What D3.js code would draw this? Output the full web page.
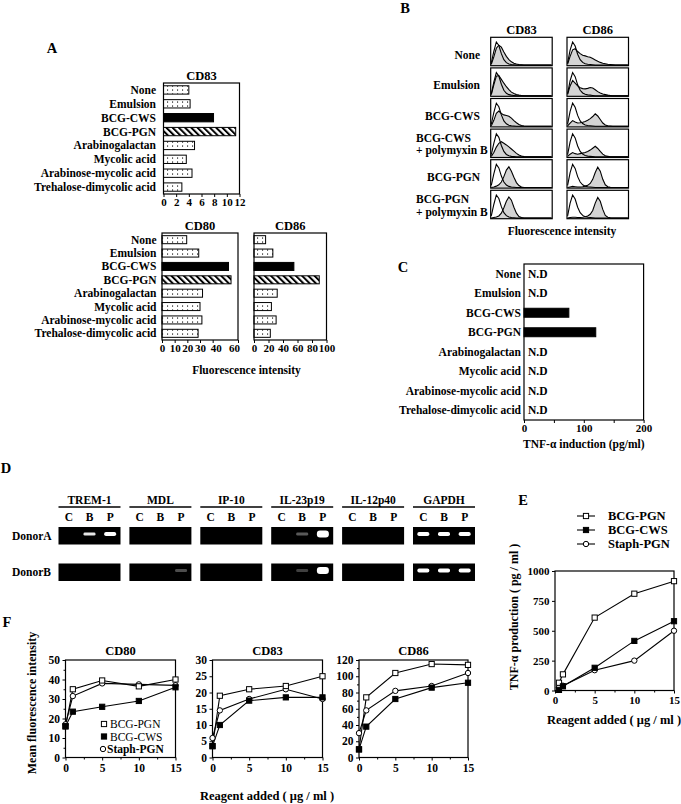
<!DOCTYPE html>
<html><head><meta charset="utf-8">
<script src="https://cdn.jsdelivr.net/npm/d3@7"></script>
<style>
html,body{margin:0;padding:0;background:#fff;}
svg{display:block;}
</style></head><body>
<svg id="fig" width="681" height="804"></svg>
<script>
// ================= DATA =================
// Panel A / C categories
const compounds = ["None","Emulsion","BCG-CWS","BCG-PGN","Arabinogalactan","Mycolic acid","Arabinose-mycolic acid","Trehalose-dimycolic acid"];
const barKind = ["dots","dots","solid","hatch","dots","dots","dots","dots"];
const cd83MFI = [4.0, 4.2, 7.9, 11.4, 4.9, 3.6, 4.5, 2.9];
const cd80MFI = [19.5, 29, 52.5, 54.5, 32, 30, 31.5, 28.5];
const cd86MFI = [16, 26, 55, 90, 32, 24, 30.5, 22.5];
const cd83Ticks = [0,2,4,6,8,10,12];
const cd80Ticks = [0,10,20,30,40,60];
const cd86Ticks = [0,20,40,60,80,100];
// Panel C
const tnfInduction = [null, null, 75, 120, null, null, null, null];
const tnfTicks = [0,50,100,150,200];
const tnfTickLabels = [0,100,200];
// Panel B (histograms, relative counts over 25 log-intensity bins)
const histRows = ["None","Emulsion","BCG-CWS","BCG-CWS|+ polymyxin B","BCG-PGN","BCG-PGN|+ polymyxin B"];
const histMarkers = ["CD83","CD86"];
const isoCD83 = [0.08,0.5,0.85,0.72,0.42,0.2,0.09,0.04,0.02,0.01,0,0,0,0,0,0,0,0,0,0,0,0,0,0,0];
const isoCD86 = [0.08,0.55,0.85,0.7,0.4,0.2,0.1,0.05,0.03,0.02,0.01,0,0,0,0,0,0,0,0,0,0,0,0,0,0];
const histCD83 = [
  [0.03,0.3,0.62,0.73,0.66,0.48,0.32,0.2,0.12,0.07,0.04,0.02,0.01,0,0,0,0,0,0,0,0,0,0,0,0],
  [0.04,0.4,0.72,0.74,0.6,0.46,0.33,0.22,0.13,0.08,0.04,0.02,0.01,0,0,0,0,0,0,0,0,0,0,0,0],
  [0.02,0.22,0.48,0.56,0.47,0.42,0.4,0.37,0.3,0.21,0.13,0.07,0.03,0.01,0,0,0,0,0,0,0,0,0,0,0],
  [0.02,0.16,0.36,0.5,0.56,0.5,0.44,0.37,0.29,0.21,0.13,0.07,0.03,0.01,0,0,0,0,0,0,0,0,0,0,0],
  [0,0.02,0.05,0.1,0.2,0.4,0.64,0.76,0.6,0.38,0.18,0.07,0.02,0,0,0,0,0,0,0,0,0,0,0,0],
  [0,0.02,0.04,0.08,0.18,0.38,0.62,0.78,0.66,0.4,0.18,0.06,0.02,0,0,0,0,0,0,0,0,0,0,0,0]
];
const histCD86 = [
  [0.04,0.32,0.56,0.6,0.5,0.42,0.36,0.34,0.31,0.29,0.24,0.19,0.14,0.1,0.07,0.05,0.03,0.02,0.01,0,0,0,0,0,0],
  [0.05,0.36,0.56,0.46,0.36,0.29,0.26,0.25,0.27,0.3,0.28,0.22,0.15,0.1,0.06,0.04,0.02,0.01,0,0,0,0,0,0,0],
  [0.02,0.12,0.21,0.16,0.12,0.13,0.15,0.18,0.22,0.28,0.36,0.46,0.38,0.25,0.12,0.05,0.02,0.01,0,0,0,0,0,0,0],
  [0.02,0.1,0.16,0.12,0.1,0.12,0.14,0.16,0.2,0.25,0.32,0.39,0.31,0.2,0.1,0.04,0.02,0,0,0,0,0,0,0,0],
  [0,0.02,0.04,0.03,0.02,0.02,0.03,0.05,0.08,0.15,0.3,0.55,0.75,0.6,0.3,0.1,0.03,0.01,0,0,0,0,0,0,0],
  [0,0.02,0.03,0.03,0.02,0.02,0.03,0.05,0.08,0.14,0.28,0.55,0.76,0.62,0.32,0.1,0.03,0.01,0,0,0,0,0,0,0]
];
// Panel D (RT-PCR band strength per lane C,B,P)
const genes = ["TREM-1","MDL","IP-10","IL-23p19","IL-12p40","GAPDH"];
const lanes = ["C","B","P"];
const donors = ["DonorA","DonorB"];
const bandsDonorA = [[0,0.9,1],[0,0,0],[0,0,0],[0,0.35,2],[0,0,0],[1.2,1.2,1.2]];
const bandsDonorB = [[0,0,0],[0,0,0.3],[0,0,0],[0,0.25,1.8],[0,0,0],[1.2,1.2,1.2]];
// Panel E
const seriesNames = ["BCG-PGN","BCG-CWS","Staph-PGN"];
const doseE = [0.5, 1, 5, 10, 15];
const tnfPGN = [65, 135, 610, 810, 915];
const tnfCWS = [5, 35, 190, 415, 580];
const tnfStaph = [25, 40, 170, 250, 500];
const tnfTicksE = [0,250,500,750,1000];
const doseTicks = [0,5,10,15];
// Panel F
const doseF = [0, 1, 5, 10, 15];
const cd80PGN = [16, 35, 39.5, 36.5, 40];
const cd80CWS = [16, 23.5, 26, 29, 36];
const cd80Staph = [17, 31.5, 38, 37.5, 37];
const cd83PGN = [3.5, 19, 21, 22, 25];
const cd83CWS = [3.5, 10, 17.5, 18.5, 18.5];
const cd83Staph = [6, 14.5, 18, 21, 18];
const cd86PGN = [10, 74, 104, 115, 114];
const cd86CWS = [10, 38, 72, 86, 92];
const cd86Staph = [30, 58, 82, 88, 104];
const cd80TicksF = [0,10,20,30,40,50];
const cd83TicksF = [0,5,10,15,20,25,30];
const cd86TicksF = [0,20,40,60,80,100,120];

// ================= DRAWING =================
const FONT = "'Liberation Serif','Times New Roman',Times,serif";
const svg = d3.select("#fig");
svg.append("rect").attr("width",681).attr("height",804).attr("fill","#fff");

const defs = svg.append("defs");
const pd = defs.append("pattern").attr("id","dots").attr("patternUnits","userSpaceOnUse")
  .attr("width",5).attr("height",4);
pd.append("rect").attr("width",5).attr("height",4).attr("fill","#fff");
pd.append("rect").attr("x",2).attr("y",1.5).attr("width",1.1).attr("height",1.1).attr("fill","#000");
const ph = defs.append("pattern").attr("id","hatch").attr("patternUnits","userSpaceOnUse")
  .attr("width",4.4).attr("height",4.4).attr("patternTransform","rotate(-45)");
ph.append("rect").attr("width",4.4).attr("height",4.4).attr("fill","#fff");
ph.append("rect").attr("x",0).attr("y",0).attr("width",2).attr("height",4.4).attr("fill","#000");
defs.append("filter").attr("id","blur").attr("x","-50%").attr("y","-100%").attr("width","200%").attr("height","300%")
  .append("feGaussianBlur").attr("stdDeviation",0.7);

function text(g, x, y, s, size, anchor, weight) {
  return g.append("text").attr("x",x).attr("y",y).text(s)
    .attr("font-family",FONT).attr("font-weight",weight||"bold").attr("font-size",size)
    .attr("text-anchor",anchor||"middle").attr("fill","#000");
}
function styleAxis(sel, size) {
  sel.attr("font-family",null).attr("font-size",null);
  sel.select(".domain").remove();
  sel.selectAll("line").attr("stroke","#000").attr("stroke-width",1);
  sel.selectAll("text").attr("font-family",FONT).attr("font-weight","bold").attr("font-size",size).attr("fill","#000");
}
function frame(g, x0, y0, x1, y1, w) {
  g.append("rect").attr("x",x0).attr("y",y0).attr("width",x1-x0).attr("height",y1-y0)
    .attr("fill","none").attr("stroke","#000").attr("stroke-width",w||1.2);
}

// panel letters
[["A",52,53],["B",405,13],["C",403,272],["D",6,473],["E",523,505],["F",7,627]].forEach(d=>text(svg,d[1],d[2],d[0],14.5,"middle"));

// ---------- Panel A / C horizontal bars ----------
function hBars(o) {
  const g = svg.append("g");
  const x = d3.scaleLinear().domain(o.domain).range([o.x0,o.x1]);
  const y = d3.scaleBand().domain(compounds).range([o.y0,o.y1]).paddingInner(o.pi).paddingOuter(o.po);
  const rows = compounds.map((c,i)=>({c, v:o.values[i], k:o.kinds ? o.kinds[i] : "solid"}));
  g.selectAll("rect.bar").data(rows.filter(r=>r.v!=null)).join("rect").attr("class","bar")
    .attr("x",x(0)).attr("y",d=>y(d.c)).attr("width",d=>x(d.v)-x(0)).attr("height",y.bandwidth())
    .attr("fill",d=>d.k==="solid"?"#000":d.k==="hatch"?"url(#hatch)":"url(#dots)")
    .attr("stroke","#000").attr("stroke-width",1);
  frame(g,o.x0,o.y0,o.x1,o.y1,1.2);
  const ax = g.append("g").attr("transform",`translate(0,${o.y1})`)
    .call(d3.axisBottom(x).tickValues(o.ticks).tickSize(3).tickPadding(1.5)
      .tickFormat(d => (o.tickLabels && !o.tickLabels.includes(d)) ? "" : d));
  styleAxis(ax, 11);
  if (o.labelShift) ax.selectAll("text").attr("dx", d => o.labelShift[d] || 0);
  if (o.title) text(g,(o.x0+o.x1)/2,o.y0-3.5,o.title,12.5,"middle");
  if (o.labelX) {
    g.selectAll("text.lab").data(rows).join("text").attr("class","lab")
      .attr("x",o.labelX).attr("y",d=>y(d.c)+y.bandwidth()/2+4).text(d=>d.c)
      .attr("font-family",FONT).attr("font-weight","bold").attr("font-size",11.5).attr("text-anchor","end");
  }
  if (o.nd) {
    g.selectAll("text.nd").data(rows.filter(r=>r.v==null)).join("text").attr("class","nd")
      .attr("x",o.x0+4).attr("y",d=>y(d.c)+y.bandwidth()/2+4).text("N.D")
      .attr("font-family",FONT).attr("font-weight","bold").attr("font-size",11.5).attr("text-anchor","start");
  }
  return g;
}
hBars({x0:163.5,x1:239.5,y0:83,y1:194,domain:[0,12],ticks:cd83Ticks,values:cd83MFI,kinds:barKind,
  title:"CD83",pi:0.4,po:0.2,labelX:156});
hBars({x0:162,x1:238,y0:233,y1:340,domain:[0,60],ticks:cd80Ticks,values:cd80MFI,kinds:barKind,
  title:"CD80",pi:0.4,po:0.2,labelX:156.5,labelShift:{40:3,60:-4}});
hBars({x0:254,x1:326.5,y0:233,y1:340,domain:[0,100],ticks:cd86Ticks,values:cd86MFI,kinds:barKind,
  title:"CD86",pi:0.4,po:0.2});
text(svg,246.5,374,"Fluorescence intensity",11.5,"middle");

hBars({x0:524,x1:643.6,y0:264,y1:420,domain:[0,200],ticks:tnfTicks,tickLabels:tnfTickLabels,values:tnfInduction,
  pi:0.54,po:0.27,labelX:521,nd:true});
text(svg,583.8,448,"TNF-\u03b1 induction (pg/ml)",11.5,"middle");

// ---------- Panel B histograms ----------
(function(){
  const g = svg.append("g");
  const colX = [490.7, 567];
  const boxW = 61.5, boxH = 28.4, top0 = 37.3, step = 30.6;
  const rowY = d3.scaleLinear().domain([0,1]).range([top0, top0+step]);
  const data = [histCD83, histCD86];
  const iso = [isoCD83, isoCD86];
  histMarkers.forEach((m,ci)=>{
    text(g, colX[ci]+boxW/2, 33.5, m, 12.5, "middle");
    histRows.forEach((r,ri)=>{
      const bx = colX[ci], by = rowY(ri);
      const x = d3.scaleLinear().domain([0,24]).range([bx+0.6, bx+boxW-0.6]);
      const y = d3.scaleLinear().domain([0,1]).range([by+boxH-0.6, by+0.6]);
      const area = d3.area().x((d,i)=>x(i)).y0(y(0)).y1(d=>y(d));
      const line = d3.line().x((d,i)=>x(i)).y(d=>y(d));
      g.append("path").attr("d",area(data[ci][ri])).attr("fill","#d4d4d4").attr("stroke","none");
      g.append("path").attr("d",line(data[ci][ri])).attr("fill","none").attr("stroke","#000").attr("stroke-width",1.1);
      g.append("path").attr("d",line(iso[ci])).attr("fill","none").attr("stroke","#000").attr("stroke-width",1.1);
      frame(g,bx,by,bx+boxW,by+boxH,1.2);
    });
  });
  histRows.forEach((r,ri)=>{
    const cy = rowY(ri) + boxH/2;
    const parts = r.split("|");
    if (parts.length===1) text(g, 480, cy+7, parts[0], 11.5, "end");
    else { text(g, 416, cy-1.5, parts[0], 11.5, "start"); text(g, 416, cy+11, parts[1], 11.5, "start"); }
  });
  text(g, 562, 235, "Fluorescence intensity", 11.5, "middle");
})();

// ---------- Panel D gels ----------
(function(){
  const g = svg.append("g");
  const gx = d3.scaleBand().domain(genes).range([58.5,475]).paddingInner(8.9/70.9).paddingOuter(0);
  const lx = d3.scaleBand().domain(lanes).range([0,gx.bandwidth()]);
  const rowTop = [527, 563.5], gelH = 17.5;
  const bands = [bandsDonorA, bandsDonorB];
  genes.forEach((gn,i)=>{
    const x0 = gx(gn);
    text(g, x0+gx.bandwidth()/2, 504, gn, 11.5, "middle");
    g.append("line").attr("x1",x0).attr("x2",x0+gx.bandwidth()).attr("y1",507).attr("y2",507)
      .attr("stroke","#000").attr("stroke-width",1.5);
    lanes.forEach(l=>text(g, x0+lx(l)+lx.bandwidth()/2, 521, l, 11.5, "middle"));
    donors.forEach((dn,di)=>{
      g.append("rect").attr("x",x0).attr("y",rowTop[di]).attr("width",gx.bandwidth()).attr("height",gelH).attr("fill","#000");
      lanes.forEach((l,li)=>{
        const v = bands[di][i][li];
        if (!v) return;
        const h = v>1.5 ? 7 : v>=1 ? 4 : 3;
        g.append("rect").attr("x",x0+lx(l)+lx.bandwidth()/2-6).attr("y",rowTop[di]+7-h/2)
          .attr("width",12).attr("height",h).attr("rx",h/2.2)
          .attr("fill","#fff").attr("opacity",Math.min(1,v)).attr("filter","url(#blur)");
      });
    });
  });
  donors.forEach((dn,di)=>text(g, 12, rowTop[di]+gelH/2+4, dn, 11.5, "start"));
})();

// ---------- line panels (E, F) ----------
function drawMarker(g, kind, cx, cy) {
  if (kind==="circle") g.append("circle").attr("cx",cx).attr("cy",cy).attr("r",2.7).attr("fill","#fff").attr("stroke","#000").attr("stroke-width",1);
  else g.append("rect").attr("x",cx-2.6).attr("y",cy-2.6).attr("width",5.2).attr("height",5.2)
    .attr("fill",kind==="sq-fill"?"#000":"#fff").attr("stroke","#000").attr("stroke-width",1);
}
const markerKinds = ["sq-open","sq-fill","circle"];
function linePanel(o) {
  const g = svg.append("g");
  const x = d3.scaleLinear().domain([0,15]).range([o.x0,o.x1]);
  const y = d3.scaleLinear().domain(o.yDomain).range([o.y1,o.y0]);
  frame(g,o.x0,o.y0,o.x1,o.y1,1.2);
  const ya = g.append("g").attr("transform",`translate(${o.x0},0)`)
    .call(d3.axisLeft(y).tickValues(o.yTicks).tickSize(3).tickPadding(2.5).tickFormat(d3.format("d")));
  styleAxis(ya, o.fs);
  if (o.yMinor) styleAxis(g.append("g").attr("transform",`translate(${o.x0},0)`)
    .call(d3.axisLeft(y).tickValues(o.yMinor).tickSize(2).tickFormat("")), o.fs);
  const xa = g.append("g").attr("transform",`translate(0,${o.y1})`)
    .call(d3.axisBottom(x).tickValues(doseTicks).tickSize(3).tickPadding(3).tickFormat(d3.format("d")));
  styleAxis(xa, o.fs);
  styleAxis(g.append("g").attr("transform",`translate(0,${o.y1})`)
    .call(d3.axisBottom(x).tickValues([2.5,7.5,12.5]).tickSize(2).tickFormat("")), o.fs);
  const line = d3.line().x(d=>x(d[0])).y(d=>y(d[1]));
  const pts = o.series.map(s=>o.dose.map((d,i)=>[d,s[i]]));
  pts.forEach(p=>g.append("path").attr("d",line(p)).attr("fill","none").attr("stroke","#000").attr("stroke-width",1.1));
  [2,0,1].forEach(si=>pts[si].forEach(p=>drawMarker(g, markerKinds[si], x(p[0]), y(p[1]))));
  if (o.title) text(g,(o.x0+o.x1)/2,655,o.title,12.5,"middle");
  return g;
}
// Panel E
linePanel({x0:555,x1:674,y0:571,y1:690.5,yDomain:[0,1000],yTicks:tnfTicksE,fs:11,
  dose:doseE,series:[tnfPGN,tnfCWS,tnfStaph]});
text(svg,614,724,"Reagent added ( \u03bcg / ml )",12.5,"middle");
svg.append("text").attr("transform","translate(518,617) rotate(-90)").text("TNF-\u03b1 production ( pg / ml )")
  .attr("font-family",FONT).attr("font-weight","bold").attr("font-size",12).attr("text-anchor","middle");
(function(){
  const g = svg.append("g");
  const ly = d3.scaleBand().domain(seriesNames).range([509,551]);
  seriesNames.forEach((s,i)=>{
    const cy = ly(s)+ly.bandwidth()/2;
    g.append("line").attr("x1",577).attr("x2",595).attr("y1",cy).attr("y2",cy).attr("stroke","#000").attr("stroke-width",1.1);
    drawMarker(g, markerKinds[i], 586, cy);
    text(g, 608, cy+4.3, s, 12.5, "start");
  });
})();

// Panel F
linePanel({x0:65.5,x1:175.5,y0:660,y1:757.5,yDomain:[0,50],yTicks:cd80TicksF,yMinor:[5,15,25,35,45],fs:11.5,
  dose:doseF,series:[cd80PGN,cd80CWS,cd80Staph],title:"CD80"});
linePanel({x0:212.5,x1:322.5,y0:660,y1:757.5,yDomain:[0,30],yTicks:cd83TicksF,fs:11.5,
  dose:doseF,series:[cd83PGN,cd83CWS,cd83Staph],title:"CD83"});
linePanel({x0:359,x1:468,y0:660,y1:757.5,yDomain:[0,120],yTicks:cd86TicksF,yMinor:[10,30,50,70,90,110],fs:11.5,
  dose:doseF,series:[cd86PGN,cd86CWS,cd86Staph],title:"CD86"});
svg.append("text").attr("transform","translate(36,703) rotate(-90)").text("Mean fluorescence intensity")
  .attr("font-family",FONT).attr("font-weight","bold").attr("font-size",12).attr("text-anchor","middle");
text(svg,267,800,"Reagent added ( \u03bcg / ml )",12.5,"middle");
(function(){
  const g = svg.append("g");
  const rows = [724, 736.5, 749];
  seriesNames.forEach((s,i)=>{
    drawMarker(g, markerKinds[i], i===2?103:104, rows[i]);
    text(g, i===2?107:110, rows[i]+4, s, 11.5, "start", i===2?"bold":"normal");
  });
})();
</script>
</body></html>
